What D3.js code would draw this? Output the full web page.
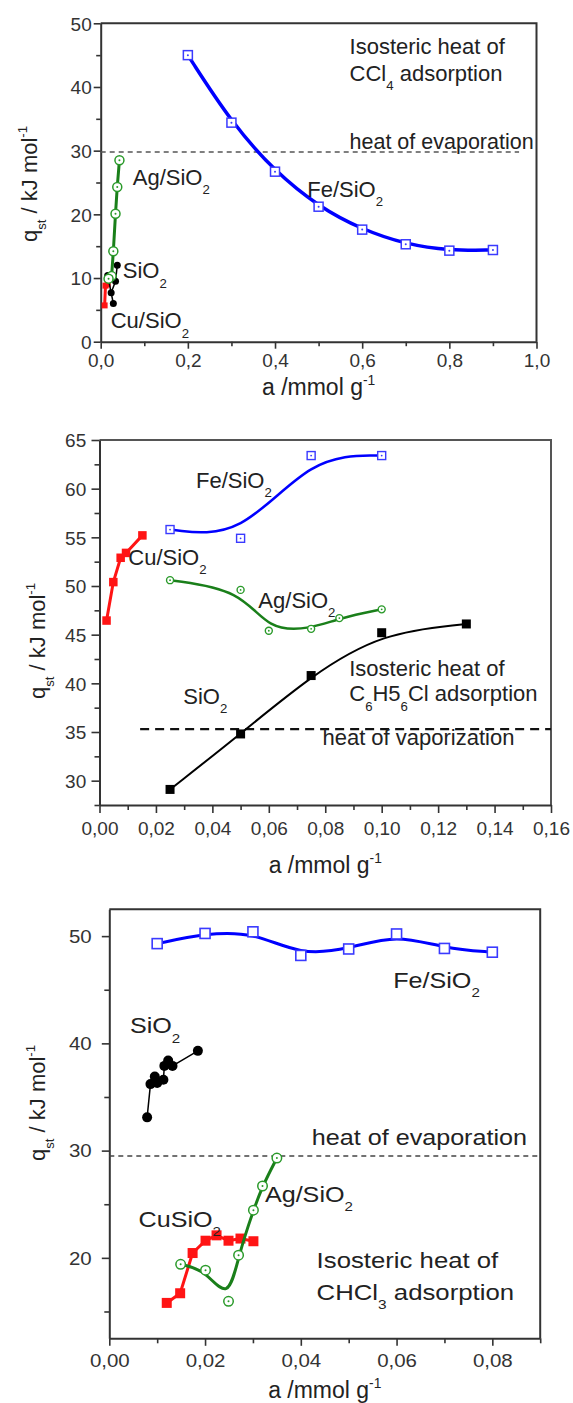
<!DOCTYPE html>
<html><head><meta charset="utf-8">
<script src="https://cdn.jsdelivr.net/npm/d3@7"></script>
<style>
html,body{margin:0;padding:0;background:#fff;}
svg{display:block;font-family:"Liberation Sans",Arial,Helvetica,sans-serif;}
</style></head><body>
<svg id="c" width="573" height="1403"></svg>
<script>
// ---------- DATA (a / mmol g^-1, q_st / kJ mol^-1) ----------
// Panel 1: CCl4
const ccl4Fe   = [[0.2,45.0],[0.3,34.4],[0.4,26.7],[0.5,21.2],[0.6,17.6],[0.7,15.3],[0.8,14.3],[0.9,14.4]];
const ccl4Ag   = [[0.043,28.5],[0.038,24.3],[0.034,20.1],[0.029,14.2],[0.025,10.3],[0.018,9.9]];
const ccl4SiO2 = [[0.016,10.4],[0.029,6.0],[0.024,7.7],[0.034,9.5],[0.038,12.0]];
const ccl4Cu   = [[0.009,5.7],[0.011,8.8],[0.016,9.0]];
const ccl4Evap = 29.8;
const p1XTicks = [0,0.2,0.4,0.6,0.8,1.0];
const p1XMinor = [0.1,0.3,0.5,0.7,0.9];
const p1YTicks = [0,10,20,30,40,50];
const p1YMinor = [5,15,25,35,45];

// Panel 2: C6H5Cl
const c6Fe   = [[0.025,55.8],[0.05,54.9],[0.075,63.4],[0.1,63.4]];
const c6Ag   = [[0.025,50.6],[0.05,49.6],[0.06,45.4],[0.075,45.6],[0.085,46.7],[0.1,47.6]];
const c6SiO2 = [[0.025,29.1],[0.05,34.8],[0.075,40.8],[0.1,45.2],[0.13,46.1]];
const c6Cu   = [[0.0025,46.45],[0.0049,50.4],[0.0075,52.9],[0.0094,53.4],[0.0152,55.2]];
const c6Vap  = 35.3;
const p2XTicks = [0,0.02,0.04,0.06,0.08,0.10,0.12,0.14,0.16];
const p2XMinor = [0.01,0.03,0.05,0.07,0.09,0.11,0.13,0.15];
const p2YTicks = [30,35,40,45,50,55,60,65];
const p2YMinor = [27.5,32.5,37.5,42.5,47.5,52.5,57.5,62.5];

// Panel 3: CHCl3
const chFe   = [[0.01,49.3],[0.02,50.25],[0.03,50.4],[0.04,48.2],[0.05,48.8],[0.06,50.2],[0.07,48.85],[0.08,48.5]];
const chSiO2 = [[0.0079,33.1],[0.0086,36.2],[0.0095,36.9],[0.0100,36.3],[0.0113,36.6],[0.0115,37.9],[0.0123,38.4],[0.0132,37.9],[0.0185,39.3]];
const chCu   = [[0.012,15.8],[0.0148,16.7],[0.0174,20.45],[0.0201,21.6],[0.0224,22.1],[0.0249,21.6],[0.0274,21.8],[0.0301,21.55]];
const chAg   = [[0.0149,19.4],[0.0201,18.85],[0.0249,15.95],[0.027,20.25],[0.0301,24.45],[0.032,26.7],[0.035,29.3]];
const chEvap = 29.5;
const p3XTicks = [0,0.02,0.04,0.06,0.08];
const p3XMinor = [0.01,0.03,0.05,0.07,0.09];
const p3YTicks = [20,30,40,50];
const p3YMinor = [15,25,35,45];

// ---------- STYLE ----------
const BLUE="#0000ff", BLUE_M="#3a3aff", GREEN="#1a7f1a", GREEN_M="#2a9a2a", RED="#ff1414", BLACK="#000", AX="#333";

const svg = d3.select("#c");
svg.append("rect").attr("width",573).attr("height",1403).attr("fill","#fff");

function parseRich(s){
  const out=[]; const re=/_\{([^}]*)\}|\^\{([^}]*)\}|([^_^]+)/g; let m;
  while((m=re.exec(s))){ if(m[1]!==undefined) out.push({t:m[1],sub:1}); else if(m[2]!==undefined) out.push({t:m[2],sup:1}); else out.push({t:m[3]}); }
  return out;
}
function rich(g, x, y, str, size, o){
  o=o||{};
  const t=g.append("text").attr("font-size",size).attr("fill",o.fill||"#222");
  const sx=o.sx||1;
  if(o.rotate) t.attr("transform",`translate(${x},${y}) rotate(${o.rotate})`);
  else t.attr("transform",`translate(${x},${y}) scale(${sx},1)`);
  if(o.anchor) t.attr("text-anchor",o.anchor);
  let cur=0;
  parseRich(str).forEach(p=>{
    let sh=0, fs=size;
    if(p.sub){sh=size*0.42; fs=size*0.6;}
    if(p.sup){sh=-size*0.45; fs=size*0.6;}
    t.append("tspan").attr("dy",sh-cur).attr("font-size",fs).text(p.t);
    cur=sh;
  });
  return t;
}

function markers(g, data, x, y, m){
  const sel=g.append("g").selectAll("g").data(data).join("g")
    .attr("transform",d=>`translate(${x(d[0])},${y(d[1])})`);
  if(m.shape==="square"){
    sel.append("rect").attr("x",-m.size/2).attr("y",-m.size/2).attr("width",m.size).attr("height",m.size)
      .attr("fill",m.fill).attr("stroke",m.stroke||"none").attr("stroke-width",m.sw||0);
  } else {
    sel.append("circle").attr("r",m.size/2).attr("fill",m.fill).attr("stroke",m.stroke||"none").attr("stroke-width",m.sw||0);
  }
  if(m.dot) sel.append("circle").attr("r",m.dot).attr("fill",m.stroke);
}

function panel(c){
  const g=svg.append("g");
  const x=d3.scaleLinear().domain(c.xDomain).range([c.left,c.right]);
  const y=d3.scaleLinear().domain(c.yDomain).range([c.bottom,c.top]);
  const [x0,x1]=x.range(), [y0,y1]=y.range();
  const fmt=v=>d3.format(c.fmt)(v).replace(".",",");
  const sx=c.sx||1;

  // frame (top and right)
  g.append("path").attr("d",`M${x0},${y1}H${x1}V${y0}`).attr("fill","none").attr("stroke",c.frameColor||AX).attr("stroke-width",2);

  // x axis
  const xa=g.append("g").attr("transform",`translate(0,${y0})`)
    .call(d3.axisBottom(x).tickValues(c.xTicks).tickFormat(fmt).tickSizeInner(c.major).tickSizeOuter(0));
  const xm=g.append("g").attr("transform",`translate(0,${y0})`)
    .call(d3.axisBottom(x).tickValues(c.xMinor).tickFormat("").tickSizeInner(c.minor).tickSizeOuter(0));
  // y axis
  const ya=g.append("g").attr("transform",`translate(${x0},0)`)
    .call(d3.axisLeft(y).tickValues(c.yTicks).tickFormat(d3.format("d")).tickSizeInner(c.major).tickSizeOuter(0));
  const ym=g.append("g").attr("transform",`translate(${x0},0)`)
    .call(d3.axisLeft(y).tickValues(c.yMinor).tickFormat("").tickSizeInner(c.minor).tickSizeOuter(0));
  xm.select(".domain").remove(); ym.select(".domain").remove();
  [xa,xm,ya,ym].forEach(a=>{
    a.attr("font-size",null).attr("font-family",null);
    a.selectAll("line").attr("stroke",AX).attr("stroke-width",1.6);
    a.select(".domain").attr("stroke",AX).attr("stroke-width",2);
  });
  xa.selectAll("text").attr("y",c.xLabGap).attr("dy",0).attr("font-size",c.tickFont).attr("fill",AX)
    .attr("transform",`scale(${sx},1)`);
  ya.selectAll("text").attr("x",-c.yLabGap/sx).attr("dy","0.36em").attr("font-size",c.tickFont).attr("fill",AX)
    .attr("transform",`scale(${sx},1)`);

  // dashed reference line
  g.append("line").attr("x1",x(c.dash.from)).attr("x2",x(c.dash.to)).attr("y1",y(c.dash.value)).attr("y2",y(c.dash.value))
    .attr("stroke",c.dash.color).attr("stroke-width",c.dash.width).attr("stroke-dasharray",c.dash.pattern);

  // series
  c.series.forEach(s=>{
    const line=d3.line().x(d=>x(d[0])).y(d=>y(d[1])).curve(s.smooth?d3.curveBasis:d3.curveLinear);
    g.append("path").attr("d",line(s.data)).attr("fill","none").attr("stroke",s.color).attr("stroke-width",s.lw)
      .attr("stroke-linejoin","round").attr("stroke-linecap","round");
    markers(g,s.data,x,y,s.marker);
  });

  // annotations
  c.labels.forEach(l=>rich(g,x(l.a),y(l.q),l.t,l.s,{sx:sx}));

  // axis titles
  rich(g,(x0+x1)/2,c.xTitleY,"a /mmol g^{-1}",c.xTitleSize,{anchor:"middle"});
  rich(g,c.yTitleX,c.yTitleCY,"q_{st} / kJ mol^{-1}",c.yTitleSize,{anchor:"middle",rotate:-90});
}

// ---------- PANEL 1 ----------
panel({
  left:100.7,right:536.5,top:23.3,bottom:341.7,xDomain:[0,1],yDomain:[0,50],
  xTicks:p1XTicks,xMinor:p1XMinor,yTicks:p1YTicks,yMinor:p1YMinor,fmt:".1f",
  major:7,minor:4.5,xLabGap:25,yLabGap:9,tickFont:19,
  xTitleY:395,xTitleSize:23,yTitleX:37,yTitleCY:184,yTitleSize:22,
  dash:{value:ccl4Evap,from:0,to:0.96,color:"#555",width:1.4,pattern:"5,4"},
  series:[
    {data:ccl4Cu,color:RED,lw:3,marker:{shape:"square",size:6,fill:RED}},
    {data:ccl4SiO2,color:BLACK,lw:1.5,marker:{shape:"circle",size:7,fill:BLACK}},
    {data:ccl4Ag,color:GREEN,lw:3,marker:{shape:"circle",size:9,fill:"#fff",stroke:GREEN_M,sw:1.5,dot:1}},
    {data:ccl4Fe,color:BLUE,lw:3.5,smooth:true,marker:{shape:"square",size:9,fill:"#fff",stroke:BLUE_M,sw:1.5,dot:1}}
  ],
  labels:[
    {t:"Isosteric heat of",a:0.571,q:45.25,s:22},
    {t:"CCl_{4} adsorption",a:0.571,q:40.9,s:22},
    {t:"heat of evaporation",a:0.571,q:30.3,s:21.5},
    {t:"Fe/SiO_{2}",a:0.474,q:22.75,s:22},
    {t:"Ag/SiO_{2}",a:0.0735,q:24.6,s:22},
    {t:"SiO_{2}",a:0.0505,q:9.95,s:22},
    {t:"Cu/SiO_{2}",a:0.023,q:2.1,s:22}
  ]
});

// ---------- PANEL 2 ----------
panel({
  left:99.5,right:551,top:440,bottom:805,xDomain:[0,0.16],yDomain:[27.5,65],
  xTicks:p2XTicks,xMinor:p2XMinor,yTicks:p2YTicks,yMinor:p2YMinor,fmt:".2f",
  major:8,minor:5,xLabGap:30,yLabGap:13.3,tickFont:19,frameColor:"#555",
  xTitleY:873,xTitleSize:23,yTitleX:45,yTitleCY:641,yTitleSize:22,
  dash:{value:c6Vap,from:0.0144,to:0.16,color:"#111",width:2.2,pattern:"9,6"},
  series:[
    {data:c6Cu,color:RED,lw:3,marker:{shape:"square",size:8.5,fill:RED}},
    {data:c6SiO2,color:BLACK,lw:2,smooth:true,marker:{shape:"square",size:9,fill:BLACK}},
    {data:c6Ag,color:GREEN,lw:2.5,smooth:true,marker:{shape:"circle",size:7,fill:"#fff",stroke:GREEN_M,sw:1.4,dot:0.9}},
    {data:c6Fe,color:BLUE,lw:2.5,smooth:true,marker:{shape:"square",size:8,fill:"#fff",stroke:BLUE_M,sw:1.4,dot:0.9}}
  ],
  labels:[
    {t:"Fe/SiO_{2}",a:0.0342,q:60.1,s:22},
    {t:"Cu/SiO_{2}",a:0.0102,q:52.17,s:22},
    {t:"Ag/SiO_{2}",a:0.0563,q:47.73,s:22},
    {t:"SiO_{2}",a:0.0297,q:37.87,s:22},
    {t:"Isosteric heat of",a:0.0885,q:40.78,s:22},
    {t:"C_{6}H5_{6}Cl adsorption",a:0.0885,q:38.14,s:22},
    {t:"heat of vaporization",a:0.079,q:33.7,s:22}
  ]
});

// ---------- PANEL 3 ----------
panel({
  left:109.3,right:540.2,top:909.3,bottom:1338.3,xDomain:[0,0.09],yDomain:[12.5,52.5],
  xTicks:p3XTicks,xMinor:p3XMinor,yTicks:p3YTicks,yMinor:p3YMinor,fmt:".2f",
  major:7.5,minor:5,xLabGap:29,yLabGap:17.6,tickFont:17.5,sx:1.17,
  xTitleY:1398,xTitleSize:23,yTitleX:45,yTitleCY:1103,yTitleSize:22,
  dash:{value:chEvap,from:0,to:0.09,color:"#444",width:1.4,pattern:"5,4"},
  series:[
    {data:chSiO2,color:BLACK,lw:1.5,marker:{shape:"circle",size:10,fill:BLACK}},
    {data:chCu,color:RED,lw:3,marker:{shape:"square",size:10,fill:RED}},
    {data:chAg,color:GREEN,lw:3,smooth:true,marker:{shape:"circle",size:9.5,fill:"#fff",stroke:GREEN_M,sw:1.5,dot:1}},
    {data:chFe,color:BLUE,lw:3,smooth:true,marker:{shape:"square",size:10,fill:"#fff",stroke:BLUE_M,sw:1.6}}
  ],
  labels:[
    {t:"Fe/SiO_{2}",a:0.0593,q:45.12,s:21.5},
    {t:"SiO_{2}",a:0.0043,q:40.92,s:21.5},
    {t:"heat of evaporation",a:0.0423,q:30.5,s:21.5},
    {t:"Ag/SiO_{2}",a:0.0325,q:25.21,s:21.5},
    {t:"CuSiO_{2}",a:0.0061,q:22.88,s:21.5},
    {t:"Isosteric heat of",a:0.0433,q:19.09,s:22},
    {t:"CHCl_{3} adsorption",a:0.0433,q:16.11,s:22}
  ]
});
</script>
</body></html>
